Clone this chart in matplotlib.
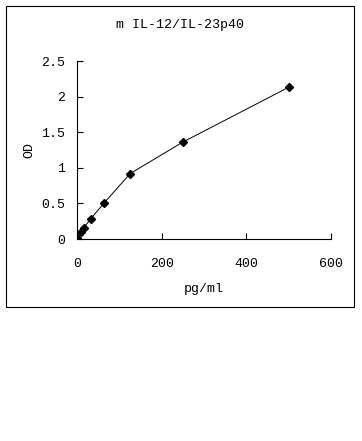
import matplotlib.pyplot as plt
from matplotlib.patches import Rectangle

# Curva padrão
conc = [0, 7.8, 15.6, 31.25, 62.5, 125, 250, 500]
od = [0.01, 0.095, 0.16, 0.28, 0.5, 0.92, 1.365, 2.135]
titulo = "m IL-12/IL-23p40"
xticks = [0, 200, 400, 600]
yticks = [0, 0.5, 1, 1.5, 2, 2.5]
yticklabels = ["0", "0.5", "1", "1.5", "2", "2.5"]

plt.rcParams['font.family'] = ['Liberation Mono', 'DejaVu Sans Mono']

fig = plt.figure(figsize=(3.62, 4.41), dpi=100)
fig.patches.append(Rectangle((6 / 362, 1 - 307 / 441), 348 / 362, 301 / 441,
                             transform=fig.transFigure, fill=False,
                             edgecolor='black', linewidth=0.8))

ax = fig.add_axes([77.3 / 362, 1 - 239 / 441, 253.7 / 362, 177.7 / 441])
ax.plot(conc, od, color='black', linewidth=0.7, marker='D', markersize=4)
ax.set_xlim(0, 600)
ax.set_ylim(0, 2.5)
ax.set_xticks(xticks)
ax.set_yticks(yticks)
ax.set_yticklabels(yticklabels)
ax.spines['top'].set_visible(False)
ax.spines['right'].set_visible(False)
ax.tick_params(direction='in', length=4, width=0.8, labelsize=9.5)
ax.tick_params(axis='x', pad=13.5)
ax.tick_params(axis='y', pad=9)
ax.set_xlabel("pg/ml", fontsize=9.5, labelpad=9.5)
ax.set_ylabel("OD", fontsize=9.5, labelpad=4)

fig.text(0.497, 1 - 25 / 441, titulo, ha='center', va='center', fontsize=9.6)

fig.savefig("out.png", dpi=100)
